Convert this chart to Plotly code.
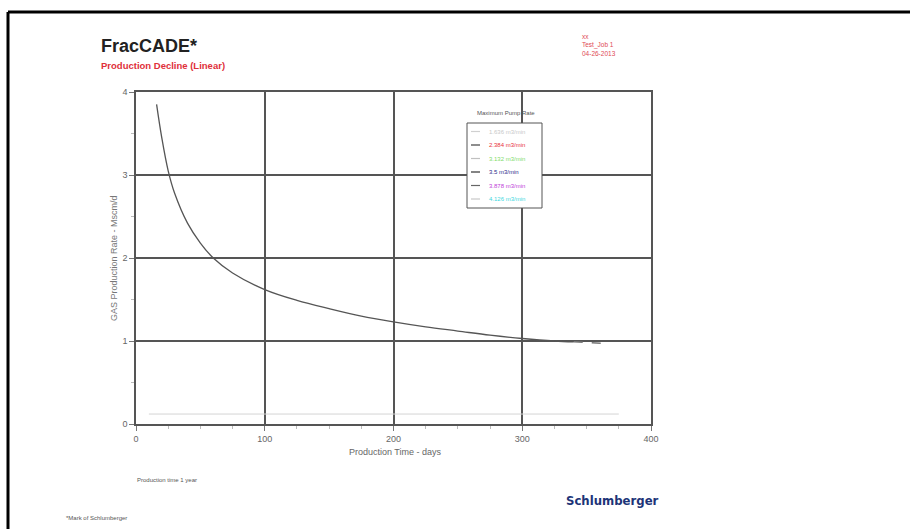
import plotly.graph_objects as go

# ---- data ----
days = [16, 20, 25, 30, 40, 50, 60, 75, 100, 125, 150, 175, 200, 225, 250, 275, 300, 325, 340]
rate = [3.85, 3.45, 3.05, 2.78, 2.42, 2.18, 2.0, 1.82, 1.62, 1.49, 1.39, 1.30, 1.23, 1.17, 1.12, 1.07, 1.03, 1.0, 0.99]
tail_days = [340, 352, 365]
tail_rate = [0.99, 0.98, 0.97]
base_days = [10, 375]
base_rate = [0.12, 0.12]

legend_names = ["1.636 m3/min", "2.384 m3/min", "3.132 m3/min", "3.5 m3/min", "3.878 m3/min", "4.126 m3/min"]
legend_colors = ["#c8c8c8", "#e8303a", "#7fdc6a", "#2a2a8a", "#c040d8", "#40d8e0"]
legend_line_colors = ["#d0d0d0", "#444444", "#c0c0c0", "#333333", "#666666", "#c8c8c8"]

x_ticks = [0, 100, 200, 300, 400]
y_ticks = [0, 1, 2, 3, 4]

# ---- layout geometry (pixels) ----
W, H = 910, 529
L, R, T, B = 136, 651, 92, 424


def px(x):
    return (x - L) / (R - L)


def py(y):
    return (B - y) / (B - T)


fig = go.Figure()

fig.add_trace(go.Scatter(x=base_days, y=base_rate, mode="lines",
                         line=dict(color="#d4d4d4", width=1), name=legend_names[0]))
fig.add_trace(go.Scatter(x=days, y=rate, mode="lines", line_shape="spline",
                         line=dict(color="#555555", width=1.3), name=legend_names[3]))
fig.add_trace(go.Scatter(x=tail_days, y=tail_rate, mode="lines",
                         line=dict(color="#777777", width=1.5, dash="dash"), name="tail"))

axis_common = dict(
    showline=True, linecolor="#555555", linewidth=1.5, mirror=True,
    showgrid=True, gridcolor="#555555", gridwidth=1.5,
    zeroline=False, ticks="outside", ticklen=5, tickcolor="#777777",
    tickfont=dict(family="Liberation Sans, Arial", size=9, color="#666666"),
    minor=dict(ticks="outside", ticklen=3, tickcolor="#bbbbbb", showgrid=False),
)

fig.update_xaxes(range=[0, 400], tickvals=x_ticks, ticktext=[str(v) for v in x_ticks], **axis_common)
fig.update_xaxes(minor_dtick=25)
fig.update_yaxes(range=[0, 4], tickvals=y_ticks, ticktext=[str(v) for v in y_ticks], **axis_common)
fig.update_yaxes(minor_dtick=0.5)

annotations = [
    dict(text="<b>FracCADE*</b>", x=px(99), y=py(46), xanchor="left", yanchor="middle",
         font=dict(family="Liberation Sans, Arial", size=18, color="#222222")),
    dict(text="<b>Production Decline (Linear)</b>", x=px(99), y=py(65), xanchor="left", yanchor="middle",
         font=dict(family="Liberation Sans, Arial", size=9.5, color="#e0303a")),
    dict(text="xx<br>Test_Job 1<br>04-26-2013", x=px(580), y=py(45), xanchor="left", yanchor="middle",
         align="left", font=dict(family="Liberation Sans, Arial", size=6.5, color="#e04a55")),
    dict(text="GAS Production Rate - Mscm/d", x=px(114), y=py(258), textangle=-90,
         xanchor="center", yanchor="middle",
         font=dict(family="Liberation Sans, Arial", size=9, color="#777777")),
    dict(text="Production Time - days", x=px(395), y=py(452), xanchor="center", yanchor="middle",
         font=dict(family="Liberation Sans, Arial", size=9, color="#666666")),
    dict(text="Maximum Pump Rate", x=px(506), y=py(113), xanchor="center", yanchor="middle",
         font=dict(family="Liberation Sans, Arial", size=6, color="#555555")),
    dict(text="Production time 1 year", x=px(135), y=py(480), xanchor="left", yanchor="middle",
         font=dict(family="Liberation Sans, Arial", size=6, color="#555555")),
    dict(text="*Mark of Schlumberger", x=px(64), y=py(518), xanchor="left", yanchor="middle",
         font=dict(family="Liberation Sans, Arial", size=6, color="#555555")),
    dict(text="<b>Schlumberger</b>", x=px(612), y=py(500), xanchor="center", yanchor="middle",
         font=dict(family="DejaVu Sans Condensed, Liberation Sans", size=13, color="#1d3478")),
]

shapes = [
    dict(type="line", x0=px(8), x1=px(912), y0=py(12), y1=py(12), line=dict(color="black", width=3)),
    dict(type="line", x0=px(8), x1=px(8), y0=py(12), y1=py(531), line=dict(color="black", width=3)),
    # legend box
    dict(type="rect", x0=px(467), x1=px(542), y0=py(123), y1=py(208),
         line=dict(color="#555555", width=1), fillcolor="white", layer="above"),
]

# manual legend entries
for i, (name, col, lcol) in enumerate(zip(legend_names, legend_colors, legend_line_colors)):
    yy = 131.5 + i * 13.5
    shapes.append(dict(type="line", x0=px(471), x1=px(480), y0=py(yy), y1=py(yy),
                       line=dict(color=lcol, width=1.2), layer="above"))
    annotations.append(dict(text=name, x=px(487), y=py(yy), xanchor="left", yanchor="middle",
                            font=dict(family="Liberation Sans, Arial", size=6, color=col)))

for a in annotations:
    a.update(xref="paper", yref="paper", showarrow=False)
for s in shapes:
    s.update(xref="paper", yref="paper")

fig.update_layout(
    width=W, height=H,
    margin=dict(l=L, r=W - R, t=T, b=H - B),
    paper_bgcolor="white", plot_bgcolor="white",
    annotations=annotations, shapes=shapes,
    showlegend=False,
)

fig.write_html("out.html")
